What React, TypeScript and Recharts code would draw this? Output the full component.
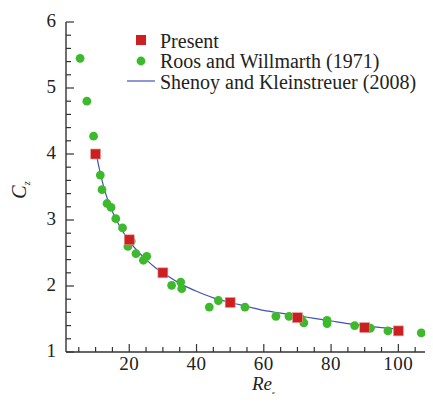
import React from "react"
import { ScatterChart, Scatter, XAxis, YAxis } from "recharts"

// Present (squares)
const presentRe = [10, 20, 30, 50, 70, 90, 100]
const presentCz = [4.0, 2.7, 2.2, 1.75, 1.52, 1.37, 1.32]

// Roos and Willmarth (1971) (circles)
const roosRe = [
  5.4, 7.4, 9.4, 11.4, 11.9, 13.4, 14.6, 16.0, 18.0, 20.6, 19.6, 22.0, 24.2,
  25.2, 32.6, 35.3, 35.6, 43.8, 46.5, 54.4, 63.6, 67.5, 71.2, 71.9, 78.8, 78.8,
  87.0, 91.7, 96.9, 106.8,
]
const roosCz = [
  5.45, 4.8, 4.27, 3.68, 3.46, 3.25, 3.19, 3.02, 2.88, 2.68, 2.6, 2.49, 2.39,
  2.45, 2.01, 2.06, 1.96, 1.68, 1.78, 1.68, 1.54, 1.54, 1.5, 1.44, 1.48, 1.43,
  1.4, 1.36, 1.32, 1.29,
]

// Shenoy and Kleinstreuer (2008) (line)
const shenoyRe = [
  10, 11, 12, 13, 14, 15, 17, 20, 23, 25, 28, 30, 35, 40, 45, 50, 55, 60, 65,
  70, 75, 80, 85, 90, 95, 100,
]
const shenoyCz = [
  4.06, 3.8, 3.58, 3.4, 3.25, 3.13, 2.92, 2.68, 2.5, 2.4, 2.27, 2.2, 2.04,
  1.92, 1.82, 1.75, 1.69, 1.63, 1.59, 1.55, 1.51, 1.47, 1.43, 1.4, 1.37, 1.35,
]

const legendNames = ["Present", "Roos and Willmarth (1971)", "Shenoy and Kleinstreuer (2008)"]

const xTicks = [5, 10, 15, 20, 25, 30, 35, 40, 45, 50, 55, 60, 65, 70, 75, 80, 85, 90, 95, 100, 105, 110]
const yTicks = [
  1, 1.2, 1.4, 1.6, 1.8, 2, 2.2, 2.4, 2.6, 2.8, 3, 3.2, 3.4, 3.6, 3.8, 4, 4.2,
  4.4, 4.6, 4.8, 5, 5.2, 5.4, 5.6, 5.8, 6,
]

const present = presentRe.map((x, i) => ({ x, y: presentCz[i] }))
const roos = roosRe.map((x, i) => ({ x, y: roosCz[i] }))
const shenoy = shenoyRe.map((x, i) => ({ x, y: shenoyCz[i] }))

const AXIS = "#333"
const RED = "#cc2020"
const GREEN = "#3dba2c"
const BLUE = "#4152b8"
const FONT = "Liberation Serif"
const serif = { fontFamily: "'Liberation Serif'" }

const XTick = (props: any) => {
  const { x, y, payload } = props
  const v = payload.value
  const major = v % 20 === 0
  return (
    <g>
      <line x1={x} x2={x} y1={y} y2={y - (major ? 8 : 5)} stroke={AXIS} strokeWidth={1.2} />
      {major && (
        <text x={x} y={y + 18} textAnchor="middle" fontSize={19} fontFamily={FONT} style={serif} letterSpacing={0.5} fill="#222">
          {v}
        </text>
      )}
    </g>
  )
}

const YTick = (props: any) => {
  const { x, y, payload } = props
  const v = payload.value
  const major = Math.abs(v - Math.round(v)) < 1e-6
  return (
    <g>
      <line x1={x} x2={x + (major ? 8 : 5)} y1={y} y2={y} stroke={AXIS} strokeWidth={1.2} />
      {major && (
        <text x={x - 10} y={y + 4.5} textAnchor="end" fontSize={19} fontFamily={FONT} style={serif} fill="#222">
          {Math.round(v)}
        </text>
      )}
    </g>
  )
}

const Square = (props: any) => {
  const { cx, cy } = props
  return <rect x={cx - 5} y={cy - 5} width={10} height={10} fill={RED} stroke="#e8a0a0" strokeWidth={0.6} />
}

const Dot = (props: any) => {
  const { cx, cy } = props
  return <circle cx={cx} cy={cy} r={4.4} fill={GREEN} />
}

export default function App() {
  return (
    <div className="cz-chart" style={{ margin: -8, width: 433, height: 402, background: "#fff", fontFamily: "'Liberation Serif'" }}>
      <style>{`.cz-chart svg text, .cz-chart svg tspan { font-family: 'Liberation Serif' !important; }`}</style>
      <ScatterChart width={433} height={402} margin={{ top: 22, right: 1, bottom: 20, left: 26 }}>
        <XAxis
          type="number"
          dataKey="x"
          domain={[1.2, 110]}
          ticks={xTicks}
          interval={0}
          tick={<XTick />}
          tickLine={false}
          tickSize={0}
          tickMargin={0}
          height={30}
          axisLine={{ stroke: AXIS, strokeWidth: 1.4 }}
          allowDataOverflow
        />
        <YAxis
          type="number"
          dataKey="y"
          domain={[1, 6]}
          ticks={yTicks}
          interval={0}
          tick={<YTick />}
          tickLine={false}
          tickSize={0}
          tickMargin={0}
          width={40}
          axisLine={{ stroke: AXIS, strokeWidth: 1.4 }}
          allowDataOverflow
        />
        <Scatter
          name={legendNames[2]}
          data={shenoy}
          line={{ stroke: BLUE, strokeWidth: 1.2 }}
          lineJointType="monotoneX"
          shape={() => null}
          isAnimationActive={false}
        />
        <Scatter name={legendNames[1]} data={roos} shape={<Dot />} isAnimationActive={false} />
        <Scatter name={legendNames[0]} data={present} shape={<Square />} isAnimationActive={false} />
        <g fontSize={20} fill="#222" fontFamily={FONT} style={serif}>
          <rect x={136} y={35} width={10} height={10} fill={RED} />
          <text x={160} y={47.5} style={serif}>{legendNames[0]}</text>
          <circle cx={141} cy={61} r={4.4} fill={GREEN} />
          <text x={160} y={68} style={serif}>{legendNames[1]}</text>
          <line x1={127} x2={155} y1={81} y2={81} stroke={BLUE} strokeWidth={1.2} />
          <text x={160} y={88.5} style={serif}>{legendNames[2]}</text>
        </g>
        <text
          x={26}
          y={190}
          transform="rotate(-90 26 190)"
          textAnchor="middle"
          fontFamily={FONT}
          style={serif}
          fontStyle="italic"
          fontSize={20}
          fill="#222"
        >
          C<tspan fontSize={10} dy={4}>z</tspan>
        </text>
        <text x={252} y={390} fontFamily={FONT} style={serif} fontStyle="italic" fontSize={19} fill="#222">
          Re<tspan fontSize={9} fontStyle="normal" dy={6}>s</tspan>
        </text>
      </ScatterChart>
    </div>
  )
}
